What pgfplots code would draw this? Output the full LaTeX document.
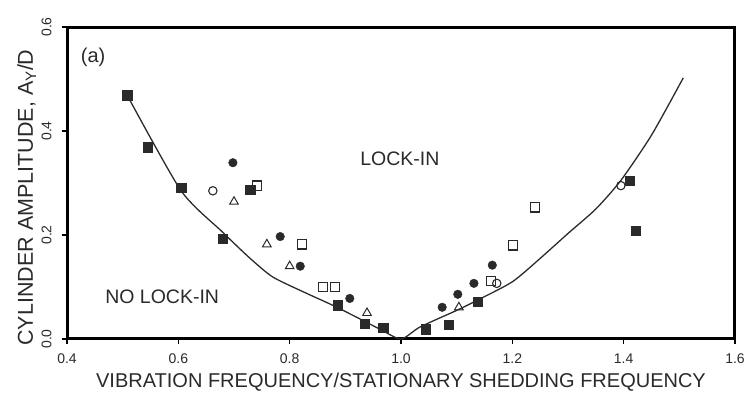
\documentclass[border=0pt]{standalone}
\usepackage{pgfplots}
\pgfplotsset{compat=1.18}
\usepackage{fontspec}
\setmainfont{Liberation Sans}
\definecolor{ink}{HTML}{2A2A2A}
\begin{document}
\begin{tikzpicture}
\begin{axis}[
  scale only axis, width=668bp, height=312bp,
  xmin=0.4, xmax=1.6, ymin=0, ymax=0.6,
  xtick={0.4,0.6,0.8,1.0,1.2,1.4,1.6},
  xticklabels={0.4,0.6,0.8,1.0,1.2,1.4,1.6},
  ytick={0,0.2,0.4,0.6},
  yticklabels={0.0,0.2,0.4,0.6},
  tick align=outside, tick pos=left,
  major tick length=5bp,
  tick style={black, line width=1.2pt},
  axis line style={black, line width=1.6pt},
  xticklabel style={font=\fontsize{14bp}{16bp}\selectfont, text=ink, yshift=-6bp},
  yticklabel style={font=\fontsize{14bp}{16bp}\selectfont, text=ink, xshift=-7bp, rotate=90, anchor=south},
  xlabel={VIBRATION FREQUENCY/STATIONARY SHEDDING FREQUENCY},
  ylabel={CYLINDER AMPLITUDE, A\textsubscript{Y}/D},
  xlabel style={at={(rel axis cs:0.5,-0.157)}, anchor=base, font=\fontsize{20bp}{24bp}\selectfont, text=ink},
  ylabel style={at={(rel axis cs:-0.0509,0.4535)}, anchor=base, rotate=0, font=\fontsize{21.5bp}{24bp}\selectfont, text=ink},
]
% frame
\addplot[black, line width=3.2pt, forget plot, line join=miter] coordinates {
 (0.4,0) (1.6,0) (1.6,0.6) (0.4,0.6) (0.4,0)
};
% curve
\addplot[ink, line width=1.3pt, smooth, tension=0.4] coordinates {
 (0.508,0.469) (0.605,0.285) (0.678,0.207) (0.729,0.155) (0.770,0.119)
 (0.830,0.088) (0.885,0.061) (0.962,0.019) (1.000,0.000)
 (1.034,0.023) (1.100,0.055) (1.138,0.075) (1.200,0.110) (1.250,0.155)
 (1.300,0.203) (1.350,0.250) (1.395,0.305) (1.450,0.392) (1.507,0.502)
};
% filled squares
\addplot[only marks, mark=square*, mark size=4.6bp, ink, mark options={fill=ink}] coordinates {
 (0.508,0.469) (0.545,0.369) (0.605,0.291) (0.680,0.193) (0.729,0.287)
 (0.887,0.065) (0.935,0.029) (0.968,0.021) (1.045,0.019) (1.086,0.027)
 (1.138,0.071) (1.411,0.304) (1.422,0.209)
};
% filled circles
\addplot[only marks, mark=*, mark size=4.3bp, ink, mark options={fill=ink}] coordinates {
 (0.698,0.339) (0.783,0.197) (0.819,0.140) (0.908,0.078)
 (1.074,0.061) (1.102,0.086) (1.131,0.107) (1.164,0.142)
};
% open circles
\addplot[only marks, mark=o, mark size=4.2bp, ink, mark options={line width=1.1pt}] coordinates {
 (0.662,0.285) (1.172,0.107) (1.395,0.295)
};
% open triangles
\addplot[only marks, mark=triangle, mark size=5bp, ink, mark options={line width=1pt}] coordinates {
 (0.700,0.264) (0.759,0.182) (0.800,0.140) (0.939,0.050) (1.104,0.061)
};
% open squares
\addplot[only marks, mark=square, mark size=4.6bp, ink, mark options={line width=1.1pt}] coordinates {
 (0.741,0.295) (0.822,0.182) (0.860,0.100) (0.881,0.100)
 (1.162,0.111) (1.201,0.180) (1.241,0.253)
};
\node[text=ink, font=\fontsize{20bp}{24bp}\selectfont] at (axis cs:0.447,0.542) {(a)};
\node[text=ink, font=\fontsize{19.5bp}{24bp}\selectfont] at (axis cs:0.998,0.346) {LOCK-IN};
\node[text=ink, font=\fontsize{19.5bp}{24bp}\selectfont] at (axis cs:0.571,0.082) {NO LOCK-IN};
\end{axis}
\pgfresetboundingbox
\path[use as bounding box] (current axis.south west) ++(-67bp,-55bp) rectangle ++(747bp,394bp);
\end{tikzpicture}
\end{document}
